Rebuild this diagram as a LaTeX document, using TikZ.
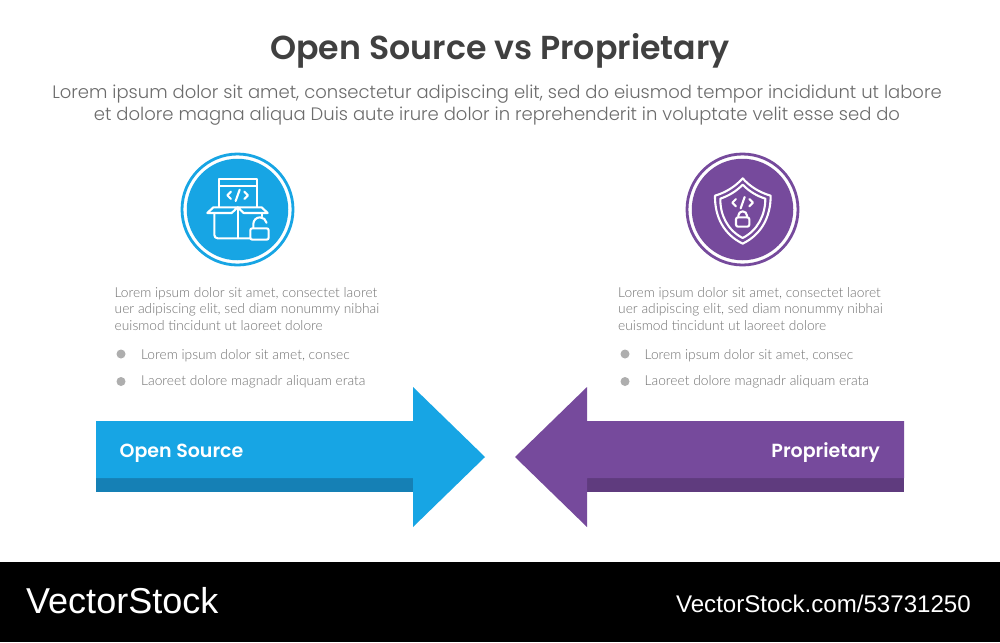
\documentclass[tikz,border=0pt]{standalone}
\usepackage{fontspec}
\setmainfont{Lato Light}
\newfontfamily\popfont{Poppins SemiBold}
\newfontfamily\poplight{Poppins Light}
\newfontfamily\footfont{Liberation Sans}
\definecolor{bluemain}{HTML}{17A5E4}
\definecolor{bluedark}{HTML}{1580B5}
\definecolor{purplemain}{HTML}{764A9C}
\definecolor{purpledark}{HTML}{5F3B7E}
\definecolor{titlegray}{HTML}{404040}
\definecolor{subgray}{HTML}{6C6C6C}
\definecolor{bodygray}{HTML}{707070}
\definecolor{dotgray}{HTML}{AEAEAE}
\tikzset{
  x=1pt,y=-1pt,
  para/.style={anchor=west,inner sep=0pt,text=bodygray,font=\fontsize{13.75}{16.5}\selectfont,align=left},
  bull/.style={anchor=west,inner sep=0pt,text=bodygray,font=\fontsize{13.75}{16}\selectfont},
  dot/.style={circle,fill=dotgray,inner sep=0pt,minimum size=9pt},
  sub/.style={inner sep=0pt,text=subgray,font=\poplight\fontsize{18}{22}\selectfont},
  arrowlabel/.style={inner sep=0pt,text=white,font=\popfont\fontsize{19}{22}\selectfont},
  iconline/.style={draw=white,line width=2.1pt,line join=round,line cap=round},
  ring/.style={circle,inner sep=0pt,minimum size=111pt,line width=2.8pt,fill=white},
  disc/.style={circle,inner sep=0pt,minimum size=101.5pt},
}
\begin{document}
\begin{tikzpicture}
\useasboundingbox (0,0) rectangle (1000,642);
\fill[white] (0,0) rectangle (1000,642);
\node[inner sep=0pt,text=titlegray,font=\popfont\fontsize{33.2}{38}\selectfont] (title) at (500,51) {Open Source vs Proprietary};
\node[sub] (sub1) at (497,94) {Lorem ipsum dolor sit amet, consectetur adipiscing elit, sed do eiusmod tempor incididunt ut labore};
\node[sub] (sub2) at (497,116) {et dolore magna aliqua Duis aute irure dolor in reprehenderit in voluptate velit esse sed do};

% circles
\node[ring,draw=bluemain] (ringL) at (237.5,209.5) {};
\node[disc,fill=bluemain] (discL) at (237.5,209.5) {};
\node[ring,draw=purplemain] (ringR) at (742.5,209.5) {};
\node[disc,fill=purplemain] (discR) at (742.5,209.5) {};

% open source icon
\begin{scope}[shift={(170,145)},x=0.3333pt,y=-0.3333pt,iconline]
\draw (147,187) -- (147,102) -- (260,102) -- (260,187);
\draw (147,122) -- (260,122);
\draw (183,140) -- (172,151) -- (183,162);
\draw (223,140) -- (234,151) -- (223,162);
\draw (209,134) -- (197,168);
\draw[fill=bluemain] (203,187) -- (130,187) -- (112,204) -- (185,204) -- cycle;
\draw[fill=bluemain] (203,187) -- (275,187) -- (293,204) -- (221,204) -- cycle;
\draw (133,204) -- (133,270) arc[start angle=180,end angle=90,radius=10] -- (240,280);
\draw (275,204) -- (275,214);
\draw (203,187) -- (203,280);
\draw (250,250) -- (250,237) arc[start angle=180,end angle=350,radius=20];
\draw[fill=bluemain,rounded corners=2pt] (241,250) rectangle (296,284);
\end{scope}

% shield icon
\begin{scope}[shift={(675,145)},x=0.3333pt,y=-0.3333pt,iconline]
\draw (203,100) .. controls (225,125) and (255,143) .. (287,152) .. controls (287,215) and (260,268) .. (203,296) .. controls (146,268) and (119,215) .. (120,152) .. controls (151,143) and (181,125) .. (203,100) -- cycle;
\draw (203,119) .. controls (222,139) and (246,153) .. (271,161) .. controls (271,210) and (248,256) .. (203,279) .. controls (158,256) and (135,210) .. (136,161) .. controls (160,153) and (184,139) .. (203,119) -- cycle;
\draw (183,162) -- (172,173) -- (183,184);
\draw (223,162) -- (234,173) -- (223,184);
\draw (209,156) -- (197,190);
\draw[rounded corners=2pt] (183,217) rectangle (223,245);
\draw (190,217) -- (190,212) arc[start angle=180,end angle=360,radius=13] -- (216,217);
\end{scope}

% left text
\node[para] (pL) at (114.5,309) {Lorem ipsum dolor sit amet, consectet laoret\\uer adipiscing elit, sed diam nonummy nibhai\\euismod tincidunt ut laoreet dolore};
\node[dot] (d1L) at (121,354) {};
\node[bull] (b1L) at (141,355.5) {Lorem ipsum dolor sit amet, consec};
\node[dot] (d2L) at (121,381.5) {};
\node[bull] (b2L) at (141,381.5) {Laoreet dolore magnadr aliquam erata};

% right text
\node[para] (pR) at (618,309) {Lorem ipsum dolor sit amet, consectet laoret\\uer adipiscing elit, sed diam nonummy nibhai\\euismod tincidunt ut laoreet dolore};
\node[dot] (d1R) at (625,354) {};
\node[bull] (b1R) at (644.5,355.5) {Lorem ipsum dolor sit amet, consec};
\node[dot] (d2R) at (625,381.5) {};
\node[bull] (b2R) at (644.5,381.5) {Laoreet dolore magnadr aliquam erata};

% arrows
\fill[bluedark] (96,478) rectangle (414,492);
\fill[bluemain] (96,421) -- (413,421) -- (413,387) -- (485,457) -- (413,527) -- (413,478) -- (96,478) -- cycle;
\fill[purpledark] (586,478) rectangle (904,492);
\fill[purplemain] (904,421) -- (587,421) -- (587,387) -- (515,457) -- (587,527) -- (587,478) -- (904,478) -- cycle;
\node[arrowlabel,anchor=west] (lblL) at (119.5,453) {Open Source};
\node[arrowlabel,anchor=east] (lblR) at (880,453) {Proprietary};

% footer
\fill[black] (0,562) rectangle (1000,642);
\node[anchor=west,inner sep=0pt,text=white,font=\footfont\fontsize{36}{38}\selectfont] (brand) at (26,601) {VectorStock};
\node[anchor=east,inner sep=0pt,text=white,font=\footfont\fontsize{24.1}{26}\selectfont] (url) at (971,604) {VectorStock.com/53731250};
\end{tikzpicture}
\end{document}
